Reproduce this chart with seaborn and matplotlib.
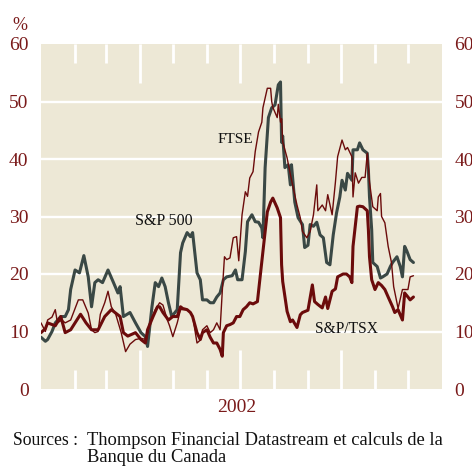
import numpy as np
import pandas as pd
import matplotlib
matplotlib.use("Agg")
import matplotlib.pyplot as plt
import matplotlib.dates as mdates
import seaborn as sns

# ---------------- data (days since 2002-01-01, implied volatility %) ----------------
sp500_days = [0, 4, 6, 10, 13, 18, 22, 25, 27, 31, 35, 39, 43, 46, 49, 52, 56, 61, 66, 70, 72, 75,
              81, 86, 91, 95, 97, 101, 104, 107, 110, 113, 116, 119, 124, 127, 129, 133, 136, 138,
              142, 145, 147, 151, 154, 157, 160, 163, 166, 169, 174, 177, 179, 183, 186, 188, 192,
              195, 198, 201, 202, 204, 207, 210, 213, 216, 218, 219, 220, 222, 225, 227, 228, 231,
              234, 238, 240, 243, 245, 248, 251, 254, 257, 260, 263, 266, 269, 272, 274, 277, 279,
              283, 284, 288, 290, 293, 297, 298, 299, 301, 302, 306, 309, 311, 315, 318, 320, 324,
              327, 329, 331, 333, 336, 339]
sp500_vals = [9.0, 8.3, 8.6, 10.0, 11.5, 12.6, 12.6, 13.8, 17.3, 20.7, 20.2, 23.2, 19.5, 14.3, 18.5,
              19.0, 18.5, 20.7, 18.5, 16.7, 17.8, 12.6, 13.3, 11.5, 9.8, 9.1, 7.4, 14.3, 18.5, 17.8,
              19.3, 17.8, 15.0, 12.6, 13.8, 23.7, 25.4, 27.2, 26.5, 27.2, 20.2, 19.0, 15.5, 15.5,
              15.0, 15.0, 16.0, 16.7, 19.0, 19.5, 19.7, 20.7, 19.0, 19.0, 23.9, 29.1, 30.3, 29.1,
              29.0, 28.0, 26.3, 38.5, 47.2, 48.9, 49.4, 52.9, 53.4, 42.9, 44.0, 38.5, 39.0, 35.5,
              39.0, 32.5, 29.8, 28.6, 24.6, 25.0, 28.6, 28.3, 29.0, 26.8, 26.3, 22.0, 21.6, 26.8,
              30.6, 33.4, 36.3, 34.6, 37.5, 36.3, 41.6, 41.6, 42.8, 41.6, 41.0, 38.1, 33.4, 27.7,
              22.0, 21.3, 19.3, 19.5, 20.0, 21.3, 22.0, 23.0, 21.3, 19.5, 24.8, 24.0, 22.5, 22.0]

ftse_days = [0, 4, 6, 10, 13, 15, 19, 22, 27, 31, 34, 38, 43, 46, 49, 52, 54, 58, 61, 64, 68, 73,
             77, 81, 86, 91, 96, 99, 104, 108, 111, 115, 117, 120, 124, 127, 133, 136, 138, 142,
             145, 147, 151, 154, 157, 160, 163, 165, 167, 169, 172, 175, 178, 180, 183, 186, 188,
             190, 193, 195, 198, 201, 202, 206, 209, 210, 211, 215, 216, 218, 219, 220, 224, 227,
             229, 233, 236, 238, 242, 245, 248, 251, 252, 256, 259, 261, 265, 268, 270, 274, 277,
             279, 283, 284, 286, 289, 292, 295, 297, 299, 302, 306, 307, 309, 310, 313, 316, 319,
             321, 324, 325, 329, 331, 334, 336, 339]
ftse_vals = [11.5, 10.0, 12.0, 12.5, 13.8, 11.5, 12.0, 11.5, 12.0, 14.0, 15.5, 15.5, 13.2, 10.3,
             9.8, 10.0, 13.0, 15.0, 17.0, 14.3, 13.0, 9.8, 6.5, 7.8, 8.6, 8.8, 8.6, 11.5, 13.8,
             15.0, 14.6, 12.0, 11.0, 9.1, 11.5, 13.8, 13.8, 13.3, 12.7, 8.0, 8.5, 10.3, 11.0, 9.8,
             10.3, 11.5, 10.3, 17.0, 23.0, 22.5, 22.8, 26.3, 26.5, 22.3, 30.3, 34.3, 33.5, 36.7,
             37.8, 41.3, 44.7, 46.4, 48.9, 52.3, 52.3, 50.0, 49.0, 47.2, 49.5, 46.4, 47.0, 43.0,
             40.2, 37.3, 35.5, 32.0, 29.8, 27.4, 26.3, 27.4, 30.3, 35.5, 31.0, 32.0, 31.0, 33.8,
             30.3, 36.0, 40.4, 43.3, 41.6, 42.0, 40.4, 33.4, 37.6, 35.8, 36.8, 36.8, 41.0, 36.0,
             31.7, 31.0, 33.4, 34.0, 30.0, 28.9, 24.8, 22.0, 17.8, 15.0, 14.0, 17.3, 17.3, 17.3,
             19.5, 19.7]

tsx_days = [0, 4, 6, 13, 18, 22, 27, 31, 36, 41, 46, 52, 58, 64, 68, 72, 75, 79, 86, 91, 95, 97,
            102, 106, 108, 111, 116, 120, 124, 127, 129, 133, 136, 138, 142, 145, 147, 151, 154,
            157, 160, 163, 165, 166, 169, 172, 175, 178, 181, 184, 187, 190, 193, 197, 199, 202,
            206, 209, 211, 215, 218, 219, 220, 224, 227, 229, 233, 236, 238, 243, 247, 249, 252,
            256, 259, 261, 265, 268, 270, 275, 278, 281, 283, 284, 288, 290, 293, 297, 298, 299,
            301, 304, 307, 310, 313, 316, 320, 322, 325, 329, 331, 334, 336, 339]
tsx_vals = [9.8, 10.5, 11.5, 11.0, 12.6, 9.8, 10.3, 11.5, 13.0, 11.5, 10.3, 10.3, 12.6, 13.8, 13.2,
            12.6, 9.8, 9.2, 9.8, 8.6, 8.0, 10.3, 12.6, 14.3, 14.3, 13.3, 12.0, 12.6, 12.6, 14.3,
            14.0, 13.8, 13.3, 12.6, 9.8, 8.6, 9.8, 10.3, 9.0, 8.0, 8.0, 6.9, 5.7, 9.8, 11.0, 11.2,
            11.5, 12.6, 12.6, 13.8, 14.3, 15.0, 14.8, 15.2, 18.7, 23.9, 30.8, 32.5, 33.2, 31.5,
            29.8, 21.6, 18.7, 13.5, 11.7, 12.0, 10.7, 12.9, 13.3, 13.7, 18.1, 15.2, 14.7, 14.1,
            16.0, 14.0, 17.0, 17.4, 19.5, 20.0, 20.0, 19.5, 18.5, 24.8, 31.7, 31.8, 31.7, 31.0,
            27.7, 23.0, 19.0, 17.3, 18.5, 18.0, 17.3, 16.0, 14.3, 13.3, 13.8, 12.0, 16.7, 16.0,
            15.5, 16.0]

y_ticks = [0, 10, 20, 30, 40, 50, 60]
year_label = "2002"
series_labels = ["S&P 500", "FTSE", "S&P/TSX"]
source_head = "Sources :"
source_lines = ["Thompson Financial Datastream et calculs de la", "Banque du Canada"]

# ---------------- style ----------------
sns.set_theme(style="white")
plt.rcParams["font.family"] = ["Liberation Serif", "DejaVu Serif"]

BG = "#ede8d6"
RED_TXT = "#7a1a1a"
RED_LINE = "#6b0b0b"
GREY_LINE = "#3a4845"

start = pd.Timestamp("2002-01-01")


def to_frame(days, vals):
    return pd.DataFrame({"date": start + pd.to_timedelta(days, unit="D"), "value": vals})


fig = plt.figure(figsize=(4.72, 4.68), dpi=100)
ax = fig.add_axes([41 / 472, 1 - 389 / 468, 401 / 472, 345 / 468])
ax.set_facecolor(BG)
ax.set_axisbelow(True)

for yv in y_ticks[1:-1]:
    ax.axhline(yv, color="white", lw=1.7, zorder=0.5)

sns.lineplot(data=to_frame(sp500_days, sp500_vals), x="date", y="value", ax=ax,
             color=GREY_LINE, lw=2.2, zorder=3)
sns.lineplot(data=to_frame(ftse_days, ftse_vals), x="date", y="value", ax=ax,
             color=RED_LINE, lw=1.0, zorder=4)
sns.lineplot(data=to_frame(tsx_days, tsx_vals), x="date", y="value", ax=ax,
             color=RED_LINE, lw=2.2, zorder=5)

ax.set_xlim(start, pd.Timestamp("2003-01-01"))
ax.set_ylim(0, 60)
ax.set_xlabel("")
ax.set_ylabel("")
for s in ax.spines.values():
    s.set_visible(False)

# x ticks: quarters long, months short, white, drawn inward top & bottom
ax.xaxis.set_major_locator(mdates.MonthLocator(bymonth=[4, 7, 10]))
ax.xaxis.set_minor_locator(mdates.MonthLocator(bymonth=[2, 3, 5, 6, 8, 9, 11, 12]))
ax.tick_params(axis="x", which="major", direction="in", length=28, width=2.0, color="white",
               top=True, bottom=True, labelbottom=False, labeltop=False)
ax.tick_params(axis="x", which="minor", direction="in", length=14, width=2.0, color="white",
               top=True, bottom=True, labelbottom=False, labeltop=False)

ax.set_yticks(y_ticks)
ax.set_yticklabels([str(v) for v in y_ticks])
ax.tick_params(axis="y", which="both", length=0, labelleft=True, labelright=True,
               left=False, right=False, labelsize=14, labelcolor=RED_TXT, pad=9)

# texts
fig.text(19.5 / 472, 1 - 30 / 468, "%", color=RED_TXT, fontsize=13, ha="center", va="baseline")
fig.text(237 / 472, 1 - 412 / 468, year_label, color=RED_TXT, fontsize=14, ha="center",
         va="baseline")
fig.text(135 / 472, 1 - 225 / 468, series_labels[0], color="#111111", fontsize=11.5,
         ha="left", va="baseline")
fig.text(218 / 472, 1 - 143 / 468, series_labels[1], color="#111111", fontsize=11,
         ha="left", va="baseline")
fig.text(315 / 472, 1 - 333 / 468, series_labels[2], color="#111111", fontsize=11.2,
         ha="left", va="baseline")
fig.text(13 / 472, 1 - 445 / 468, source_head, color="#111111", fontsize=12.7, ha="left",
         va="baseline")
fig.text(87 / 472, 1 - 445 / 468, source_lines[0], color="#111111", fontsize=13.3, ha="left",
         va="baseline")
fig.text(87 / 472, 1 - 462 / 468, source_lines[1], color="#111111", fontsize=13.3, ha="left",
         va="baseline")

fig.savefig("out.png", dpi=100, facecolor="white")
